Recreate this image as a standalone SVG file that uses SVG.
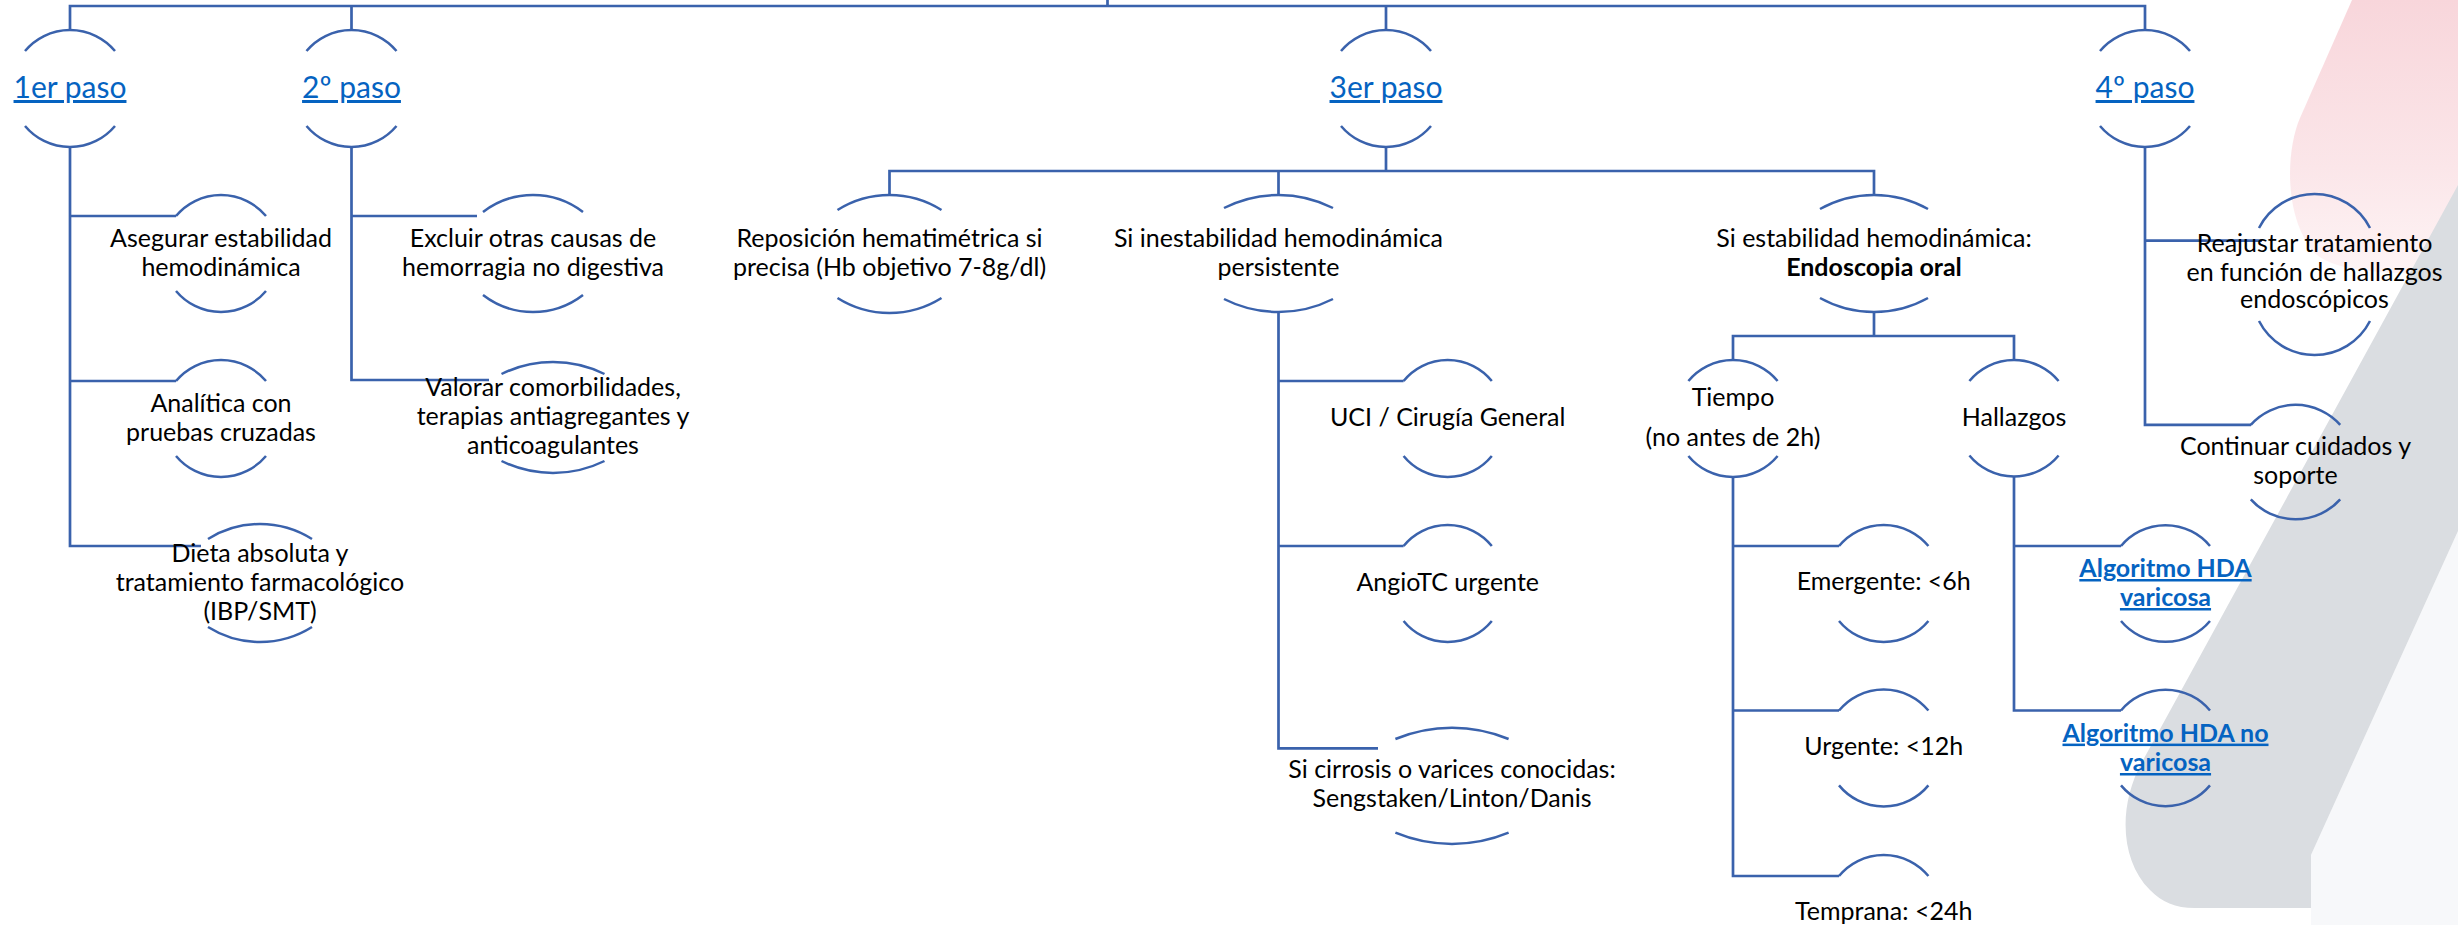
<svg xmlns="http://www.w3.org/2000/svg" width="2458" height="925" viewBox="0 0 2458 925">
<defs>
<linearGradient id="pinkGrad" gradientUnits="userSpaceOnUse" x1="0" y1="0" x2="0" y2="280">
<stop offset="0" stop-color="#F8D6DB"/>
<stop offset="0.6" stop-color="#FBE6E9"/>
<stop offset="1" stop-color="#FEF5F6"/>
</linearGradient>
</defs>
<style>
.ln{fill:none;stroke:#3A62AC;stroke-width:2.7}
.arc{fill:none;stroke:#3A62AC;stroke-width:2.5}
.t{font-family:Lato,"Liberation Sans",sans-serif;font-size:25px;fill:#000;text-anchor:middle}
.h{font-family:Lato,"Liberation Sans",sans-serif;font-size:30px;fill:#0563C1;text-anchor:middle;text-decoration:underline}
.lk{fill:#0563C1;font-weight:bold;text-decoration:underline}
.b{font-weight:bold}
</style>
<rect width="2458" height="925" fill="#FFFFFF"/>
<g id="background">
<path d="M2352,0 L2300,118 C2286,150 2284,215 2312,250 C2330,272 2380,274 2458,274 L2458,0 Z" fill="url(#pinkGrad)"/>
<path d="M2458,531 L2311,855 L2311,925 L2458,925 Z" fill="#F7F8FA"/>
<path d="M2458,185 L2142,762 C2118,806 2120,860 2150,890 C2162,902 2175,908 2195,908 L2311,908 L2311,855 L2458,531 Z" fill="#DADDE1"/>
</g>
<g id="connectors">
<path class="ln" d="M70,30 V6 H2145 V30 M351.5,6 V30 M1386,6 V30 M1107.5,0 V6"/>
<path class="ln" d="M70,147 V546 H201 M70,216 H176 M70,381 H176"/>
<path class="ln" d="M351.5,147 V380 H489 M351.5,216 H477"/>
<path class="ln" d="M1386,147 V171 M889.5,195 V171 H1874 V195 M1278.5,171 V195"/>
<path class="ln" d="M1278.5,312 V748.3 H1378 M1278.5,381 H1403.6 M1278.5,546 H1403.6"/>
<path class="ln" d="M1874,312 V336 M1733,360 V336 H2014 V360"/>
<path class="ln" d="M1733,477 V876 H1839 M1733,546 H1839 M1733,710.5 H1839"/>
<path class="ln" d="M2014,476.5 V710.5 H2121 M2014,546 H2121"/>
<path class="ln" d="M2145,147 V424.8 H2251 M2145,240.7 H2262"/>
</g>
<g id="n1">
<path class="arc" d="M25,51 A58.7,58.7 0 0 1 115,51 M25,126 A58.7,58.7 0 0 0 115,126"/>
<text class="h" x="70" y="98">1er paso</text>
</g>
<g id="n2">
<path class="arc" d="M306.5,51 A58.7,58.7 0 0 1 396.5,51 M306.5,126 A58.7,58.7 0 0 0 396.5,126"/>
<text class="h" x="351.5" y="98">2º paso</text>
</g>
<g id="n3">
<path class="arc" d="M1341,51 A58.7,58.7 0 0 1 1431,51 M1341,126 A58.7,58.7 0 0 0 1431,126"/>
<text class="h" x="1386" y="98">3er paso</text>
</g>
<g id="n4">
<path class="arc" d="M2100,51 A58.7,58.7 0 0 1 2190,51 M2100,126 A58.7,58.7 0 0 0 2190,126"/>
<text class="h" x="2145" y="98">4º paso</text>
</g>
<g id="n5">
<path class="arc" d="M176,216 A58.7,58.7 0 0 1 266,216 M176,291 A58.7,58.7 0 0 0 266,291"/>
<text class="t" x="221" y="246.5">Asegurar estabilidad</text>
<text class="t" x="221" y="276">hemodinámica</text>
</g>
<g id="n6">
<path class="arc" d="M176,381 A58.7,58.7 0 0 1 266,381 M176,456 A58.7,58.7 0 0 0 266,456"/>
<text class="t" x="221" y="411.7">Analítica con</text>
<text class="t" x="221" y="440.5">pruebas cruzadas</text>
</g>
<g id="n7">
<path class="arc" d="M208,539 A97.6,97.6 0 0 1 312,539 M208,627 A97.6,97.6 0 0 0 312,627"/>
<text class="t" x="260" y="561.7">Dieta absoluta y</text>
<text class="t" x="260" y="590.7">tratamiento farmacológico</text>
<text class="t" x="260" y="619.5">(IBP/SMT)</text>
</g>
<g id="n8">
<path class="arc" d="M483,212 A82,82 0 0 1 583,212 M483,295 A82,82 0 0 0 583,295"/>
<text class="t" x="533" y="246.5">Excluir otras causas de</text>
<text class="t" x="533" y="276">hemorragia no digestiva</text>
</g>
<g id="n9">
<path class="arc" d="M501.5,374 A116.5,116.5 0 0 1 604.5,374 M501.5,461 A116.5,116.5 0 0 0 604.5,461"/>
<text class="t" x="553" y="396">Valorar comorbilidades,</text>
<text class="t" x="553" y="425">terapias antiagregantes y</text>
<text class="t" x="553" y="454">anticoagulantes</text>
</g>
<g id="n10">
<path class="arc" d="M837.5,210 A97.6,97.6 0 0 1 941.5,210 M837.5,298 A97.6,97.6 0 0 0 941.5,298"/>
<text class="t" x="889.5" y="246.5">Reposición hematimétrica si</text>
<text class="t" x="889.5" y="276">precisa (Hb objetivo 7-8g/dl)</text>
</g>
<g id="n11">
<path class="arc" d="M1224,208 A120.7,120.7 0 0 1 1333,208 M1224,299 A120.7,120.7 0 0 0 1333,299"/>
<text class="t" x="1278.5" y="246.5">Si inestabilidad hemodinámica</text>
<text class="t" x="1278.5" y="276">persistente</text>
</g>
<g id="n12">
<path class="arc" d="M1820,209 A111,111 0 0 1 1928,209 M1820,298 A111,111 0 0 0 1928,298"/>
<text class="t" x="1874" y="246.5">Si estabilidad hemodinámica:</text>
<text class="t b" x="1874" y="276">Endoscopia oral</text>
</g>
<g id="n13">
<path class="arc" d="M1403.6,381 A56.8,56.8 0 0 1 1491.8,381 M1403.6,456 A56.8,56.8 0 0 0 1491.8,456"/>
<text class="t" x="1447.7" y="426">UCI / Cirugía General</text>
</g>
<g id="n14">
<path class="arc" d="M1403.6,546 A56.8,56.8 0 0 1 1491.8,546 M1403.6,621 A56.8,56.8 0 0 0 1491.8,621"/>
<text class="t" x="1447.7" y="590.7">AngioTC urgente</text>
</g>
<g id="n15">
<path class="arc" d="M1395.4,739 A147.4,147.4 0 0 1 1508.6,739 M1395.4,832.7 A147.4,147.4 0 0 0 1508.6,832.7"/>
<text class="t" x="1452" y="778.3">Si cirrosis o varices conocidas:</text>
<text class="t" x="1452" y="806.7">Sengstaken/Linton/Danis</text>
</g>
<g id="n16">
<path class="arc" d="M1688.4,381 A57.9,57.9 0 0 1 1777.6,381 M1688.4,456 A57.9,57.9 0 0 0 1777.6,456"/>
<text class="t" x="1733" y="406">Tiempo</text>
<text class="t" x="1733" y="445.7">(no antes de 2h)</text>
</g>
<g id="n17">
<path class="arc" d="M1969.4,381 A57.9,57.9 0 0 1 2058.6,381 M1969.4,455.5 A57.9,57.9 0 0 0 2058.6,455.5"/>
<text class="t" x="2014" y="425.5">Hallazgos</text>
</g>
<g id="n18">
<path class="arc" d="M1839,546 A57.9,57.9 0 0 1 1928.4,546 M1839,621 A57.9,57.9 0 0 0 1928.4,621"/>
<text class="t" x="1883.7" y="590">Emergente: &lt;6h</text>
</g>
<g id="n19">
<path class="arc" d="M1839,710.5 A57.9,57.9 0 0 1 1928.4,710.5 M1839,785.4 A57.9,57.9 0 0 0 1928.4,785.4"/>
<text class="t" x="1883.7" y="754.5">Urgente: &lt;12h</text>
</g>
<g id="n20">
<path class="arc" d="M1839,876 A57.9,57.9 0 0 1 1928.4,876"/>
<text class="t" x="1883.7" y="920">Temprana: &lt;24h</text>
</g>
<g id="n21">
<path class="arc" d="M2121,546 A57.9,57.9 0 0 1 2210,546 M2121,621 A57.9,57.9 0 0 0 2210,621"/>
<text class="t lk" x="2165.5" y="577">Algoritmo HDA</text>
<text class="t lk" x="2165.5" y="606">varicosa</text>
</g>
<g id="n22">
<path class="arc" d="M2121,710.5 A57.9,57.9 0 0 1 2210,710.5 M2121,785.4 A57.9,57.9 0 0 0 2210,785.4"/>
<text class="t lk" x="2165.5" y="741.6">Algoritmo HDA no</text>
<text class="t lk" x="2165.5" y="771">varicosa</text>
</g>
<g id="n23">
<path class="arc" d="M2259,228 A62.3,62.3 0 0 1 2370,228 M2259,321 A62.3,62.3 0 0 0 2370,321"/>
<text class="t" x="2314.5" y="251.7">Reajustar tratamiento</text>
<text class="t" x="2314.5" y="280.7">en función de hallazgos</text>
<text class="t" x="2314.5" y="308.3">endoscópicos</text>
</g>
<g id="n24">
<path class="arc" d="M2250.8,424.8 A60,60 0 0 1 2340.2,424.8 M2250.8,499.3 A60,60 0 0 0 2340.2,499.3"/>
<text class="t" x="2295.5" y="455.4">Continuar cuidados y</text>
<text class="t" x="2295.5" y="484">soporte</text>
</g>
</svg>
